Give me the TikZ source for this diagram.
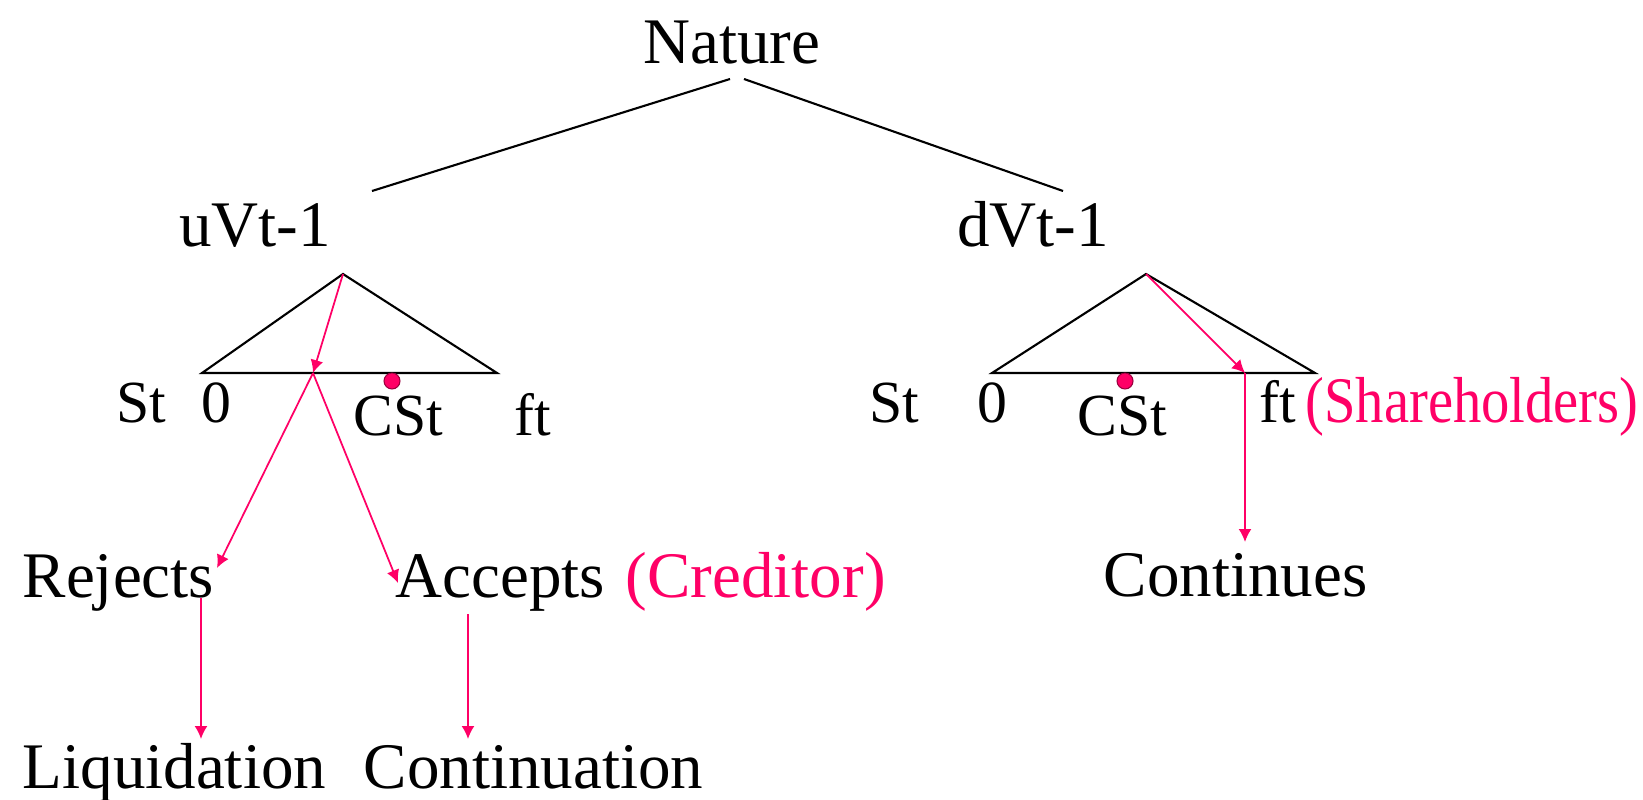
\documentclass[tikz,border=0pt]{standalone}
\usepackage{fontspec}
\setmainfont{Liberation Serif}
\usetikzlibrary{arrows.meta}
\definecolor{pinkred}{RGB}{255,0,102}
\tikzset{txt/.style = {inner sep=0pt, anchor=base, font=\fontsize{18.5}{22}\selectfont},
         small/.style = {txt, font=\fontsize{17}{20}\selectfont},
         redtxt/.style = {txt, text=pinkred},
         branch/.style = {draw, black, line width=0.6pt},
         move/.style = {draw, pinkred, line width=0.5pt, -{Latex[length=1.3mm,width=1.3mm]}},
         cstdot/.pic = {\fill[pinkred, draw=pinkred!60!black, line width=0.3pt] (0,0) circle (#1);}}

\begin{document}
\begin{tikzpicture}
    \useasboundingbox (0,0) rectangle (16.43,7.99);

    % nature draws the value
    \node[txt] (nature) at (7.32,7.35) {Nature};
    \node[txt] (uvt) at (2.55,5.52) {uVt-1};
    \node[txt] (dvt) at (10.33,5.52) {dVt-1};
    \coordinate (natL) at (7.30,7.20);
    \coordinate (natR) at (7.44,7.20);
    \coordinate (uvtR) at (3.72,6.08);
    \coordinate (dvtR) at (10.63,6.08);
    \draw[branch] (natL) -- (uvtR);
    \draw[branch] (natR) -- (dvtR);

    % the two triangles
    \coordinate (uTop) at (3.43,5.25);
    \coordinate (uL) at (2.02,4.26);
    \coordinate (uR) at (4.97,4.26);
    \coordinate (uCut) at (3.13,4.26);
    \coordinate (dTop) at (11.46,5.25);
    \coordinate (dL) at (9.92,4.26);
    \coordinate (dR) at (13.15,4.26);
    \coordinate (dCut) at (12.45,4.26);
    \draw[branch] (uTop) -- (uL) -- (uR) -- cycle;
    \draw[branch] (dTop) -- (dL) -- (dR) -- cycle;

    \draw(3.92,4.18)pic{cstdot=0.08};
    \draw(11.25,4.18)pic{cstdot=0.08};

    \node[small] (ust) at (1.41,3.77) {St};
    \node[small] (uzero) at (2.16,3.77) {0};
    \node[small] (ucst) at (3.98,3.64) {CSt};
    \node[small] (uft) at (5.33,3.64) {ft};
    \node[small] (dst) at (8.94,3.77) {St};
    \node[small] (dzero) at (9.92,3.77) {0};
    \node[small] (dcst) at (11.22,3.64) {CSt};
    \node[small] (dft) at (12.78,3.77) {ft};
    \node[redtxt, anchor=base west, xscale=0.87] (share) at (13.05,3.77) {(Shareholders)};

    % choices
    \node[txt, anchor=base west] (rej) at (0.22,2.02) {Rejects};
    \node[txt, anchor=base west] (acc) at (3.95,2.02) {Accepts};
    \node[redtxt, anchor=base west] (cred) at (6.25,2.02) {(Creditor)};
    \node[txt, anchor=base west] (cont) at (11.03,2.03) {Continues};
    \node[txt, anchor=base west] (liq) at (0.22,0.11) {Liquidation};
    \node[txt, anchor=base west] (conti) at (3.63,0.11) {Continuation};

    \coordinate (rejIn) at (2.17,2.31);
    \coordinate (accIn) at (3.98,2.16);
    \coordinate (rejOut) at (2.01,2.01);
    \coordinate (liqIn) at (2.01,0.60);
    \coordinate (accOut) at (4.68,1.85);
    \coordinate (contiIn) at (4.68,0.60);
    \coordinate (contIn) at (12.45,2.57);

    \draw[move] (uTop) -- (uCut);
    \draw[move] (uCut) -- (rejIn);
    \draw[move] (uCut) -- (accIn);
    \draw[move] (rejOut) -- (liqIn);
    \draw[move] (accOut) -- (contiIn);
    \draw[move] (dTop) -- (dCut);
    \draw[move] (dCut) -- (contIn);
\end{tikzpicture}
\end{document}
